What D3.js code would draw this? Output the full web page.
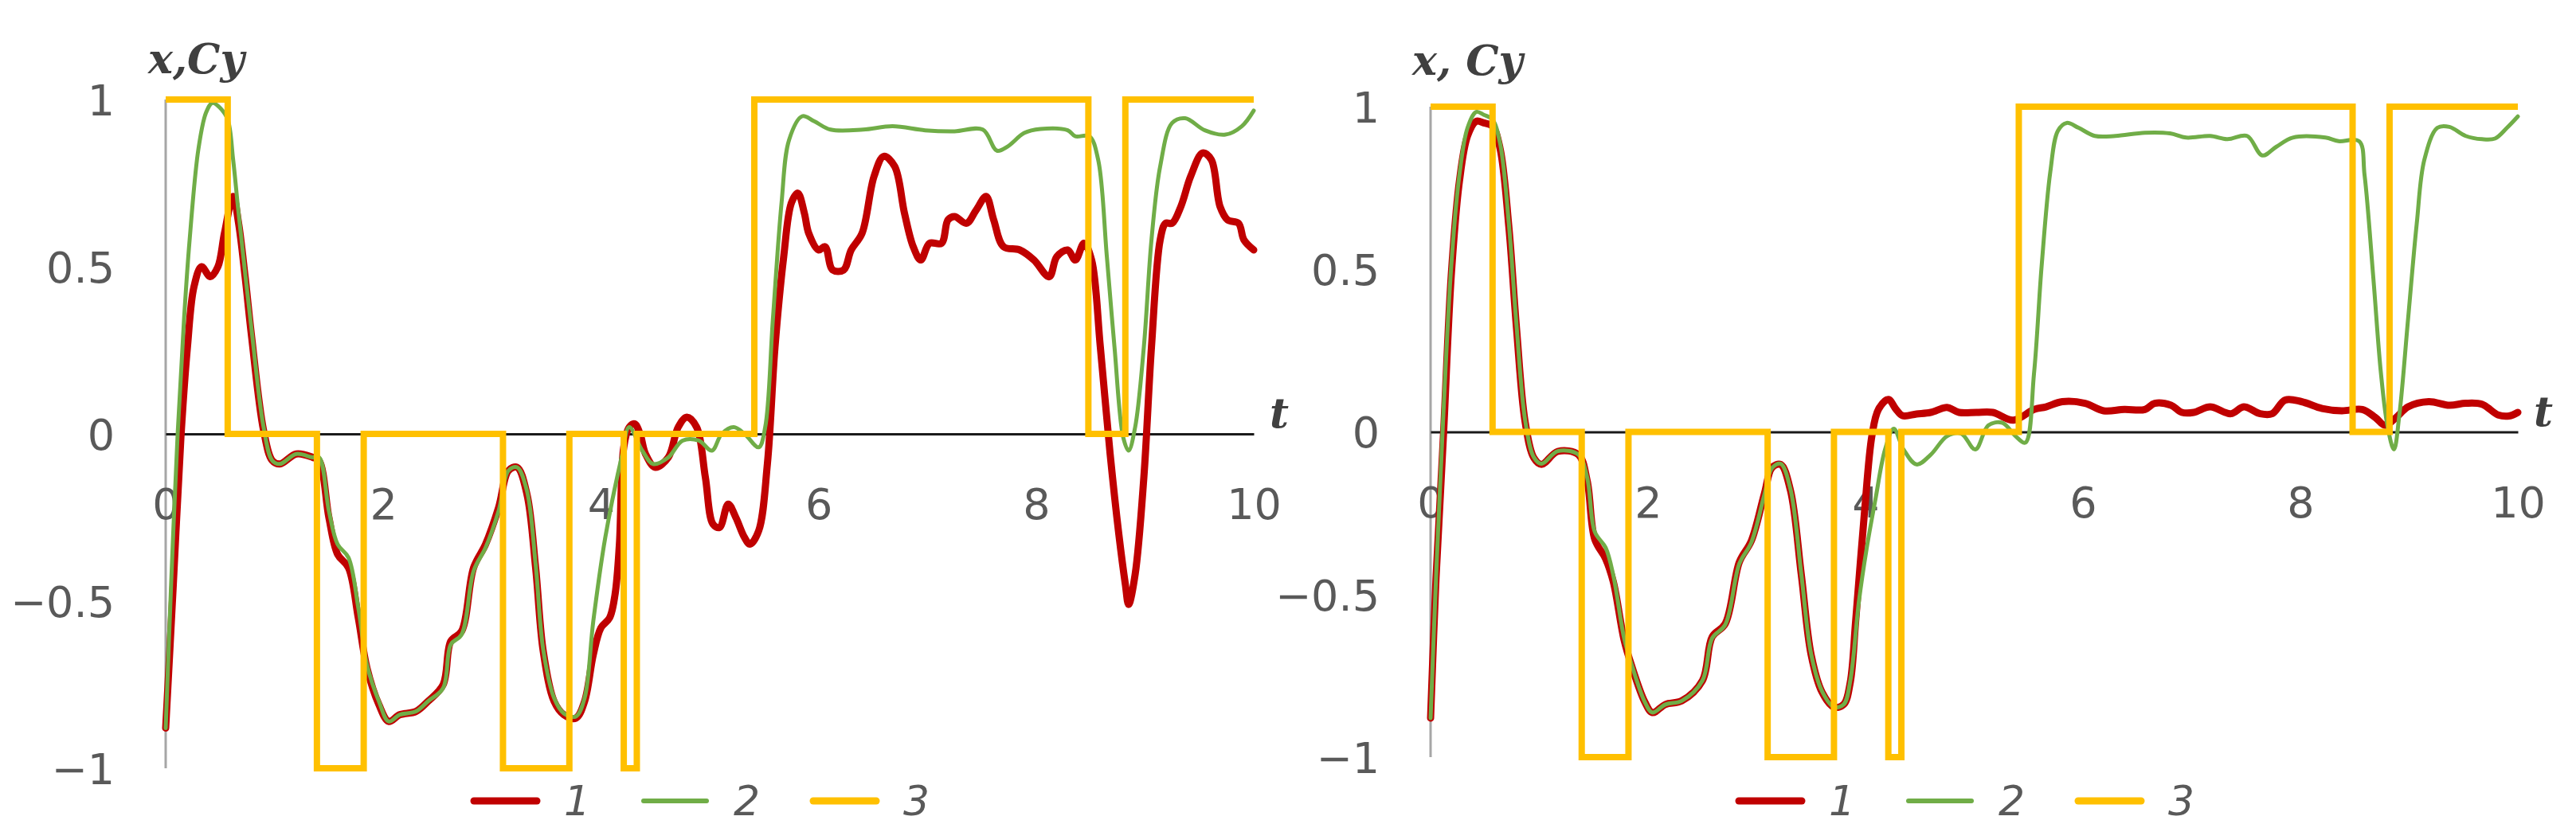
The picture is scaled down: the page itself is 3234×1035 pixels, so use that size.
<!DOCTYPE html>
<html>
<head>
<meta charset="utf-8">
<script src="https://cdn.jsdelivr.net/npm/d3@7"></script>
<style>
  body { margin: 0; background: #fff; }
  svg { display: block; }
</style>
</head>
<body>
<div id="chart"></div>
<script>
// values: [t, value]
const xTicks = [0, 2, 4, 6, 8, 10];
const yTicks = [-1, -0.5, 0, 0.5, 1];
const legendNames = ["1", "2", "3"];

// series 3: relay switching moments and levels (same in both panels)
const switchT = [0, 0.57, 1.39, 1.82, 3.10, 3.71, 4.21, 4.33, 5.41, 8.48, 8.82, 10];
const switchU = [1, 0, -1, 0, -1, 0, -1, 0, 1, 0, 1, 1];

// left panel
const leftRed = [
  [0, -0.88], [0.07, -0.45], [0.14, -0.01], [0.20, 0.26], [0.26, 0.44], [0.33, 0.50],
  [0.41, 0.47], [0.48, 0.50], [0.54, 0.60], [0.62, 0.71], [0.67, 0.63], [0.73, 0.47],
  [0.79, 0.29], [0.90, 0.01], [0.98, -0.08], [1.05, -0.09], [1.20, -0.06], [1.35, -0.07],
  [1.41, -0.08], [1.50, -0.25], [1.58, -0.36], [1.68, -0.40], [1.77, -0.55], [1.85, -0.70],
  [1.96, -0.81], [2.05, -0.86], [2.15, -0.84], [2.30, -0.83], [2.41, -0.80], [2.55, -0.75],
  [2.62, -0.62], [2.72, -0.59], [2.83, -0.40], [2.94, -0.33], [3.06, -0.22], [3.15, -0.11],
  [3.23, -0.10], [3.32, -0.18], [3.40, -0.40], [3.47, -0.65], [3.57, -0.80], [3.66, -0.84],
  [3.77, -0.85], [3.85, -0.80], [3.93, -0.66], [4.00, -0.58], [4.08, -0.55], [4.13, -0.48],
  [4.17, -0.33], [4.21, -0.04], [4.26, 0.02], [4.31, 0.03], [4.36, 0.00], [4.41, -0.06],
  [4.50, -0.10], [4.62, -0.07], [4.71, 0.02], [4.79, 0.05], [4.88, 0.02], [4.96, -0.13],
  [5.03, -0.27], [5.09, -0.28], [5.17, -0.21], [5.24, -0.25], [5.32, -0.31], [5.37, -0.33],
  [5.45, -0.29], [5.53, -0.09], [5.60, 0.26], [5.68, 0.53], [5.75, 0.69], [5.81, 0.72],
  [5.87, 0.66], [5.91, 0.60], [6.00, 0.55], [6.06, 0.56], [6.13, 0.49], [6.23, 0.49],
  [6.30, 0.55], [6.40, 0.60], [6.51, 0.77], [6.60, 0.83], [6.70, 0.80], [6.79, 0.66],
  [6.87, 0.56], [6.94, 0.52], [7.02, 0.57], [7.13, 0.57], [7.19, 0.64], [7.25, 0.65],
  [7.36, 0.63], [7.45, 0.67], [7.54, 0.71], [7.61, 0.64], [7.70, 0.56], [7.85, 0.55],
  [7.98, 0.52], [8.12, 0.47], [8.19, 0.53], [8.29, 0.55], [8.36, 0.52], [8.44, 0.57],
  [8.51, 0.52], [8.59, 0.26], [8.68, -0.06], [8.76, -0.30], [8.82, -0.45], [8.85, -0.51],
  [8.91, -0.42], [8.99, -0.13], [9.06, 0.26], [9.14, 0.58], [9.19, 0.63], [9.25, 0.63],
  [9.33, 0.68], [9.42, 0.77], [9.53, 0.84], [9.61, 0.82], [9.69, 0.68], [9.76, 0.64],
  [9.86, 0.63], [9.91, 0.58], [10, 0.55]
];
const leftGreen = [
  [0, -0.88], [0.05, -0.45], [0.11, 0.00], [0.17, 0.35], [0.22, 0.58], [0.30, 0.85],
  [0.37, 0.96], [0.43, 0.99], [0.50, 0.975], [0.57, 0.94], [0.62, 0.82], [0.67, 0.66],
  [0.79, 0.31], [0.90, 0.02], [0.98, -0.08], [1.05, -0.09], [1.20, -0.06], [1.35, -0.07],
  [1.41, -0.07], [1.50, -0.23], [1.58, -0.33], [1.68, -0.37], [1.77, -0.52], [1.85, -0.69],
  [1.96, -0.80], [2.05, -0.86], [2.15, -0.84], [2.30, -0.83], [2.41, -0.80], [2.55, -0.76],
  [2.62, -0.63], [2.72, -0.60], [2.83, -0.41], [2.94, -0.34], [3.06, -0.23], [3.15, -0.11],
  [3.23, -0.10], [3.32, -0.17], [3.40, -0.39], [3.47, -0.645], [3.57, -0.79], [3.66, -0.836],
  [3.77, -0.845], [3.85, -0.79], [3.93, -0.56], [4.04, -0.31], [4.19, -0.07], [4.26, 0.02],
  [4.38, -0.05], [4.48, -0.09], [4.62, -0.07], [4.75, -0.02], [4.90, -0.02], [5.02, -0.05],
  [5.11, 0.00], [5.22, 0.02], [5.32, 0.00], [5.45, -0.04], [5.51, 0.02], [5.58, 0.34],
  [5.66, 0.69], [5.73, 0.88], [5.85, 0.95], [5.96, 0.935], [6.11, 0.91], [6.41, 0.91],
  [6.68, 0.92], [6.98, 0.908], [7.25, 0.905], [7.51, 0.91], [7.64, 0.847], [7.74, 0.86],
  [7.89, 0.90], [8.04, 0.912], [8.29, 0.908], [8.36, 0.89], [8.49, 0.89], [8.57, 0.82],
  [8.65, 0.53], [8.72, 0.26], [8.80, -0.01], [8.85, -0.05], [8.91, 0.02], [8.99, 0.26],
  [9.06, 0.58], [9.14, 0.80], [9.25, 0.93], [9.37, 0.944], [9.55, 0.908], [9.74, 0.895],
  [9.89, 0.92], [10, 0.967]
];

// right panel
const rightRed = [
  [0, -0.88], [0.05, -0.45], [0.12, 0.00], [0.19, 0.48], [0.265, 0.77], [0.34, 0.91],
  [0.42, 0.955], [0.49, 0.95], [0.57, 0.94], [0.64, 0.87], [0.72, 0.63], [0.79, 0.32],
  [0.87, 0.03], [0.95, -0.08], [1.02, -0.10], [1.17, -0.06], [1.36, -0.07], [1.44, -0.15],
  [1.51, -0.33], [1.61, -0.39], [1.68, -0.46], [1.78, -0.64], [1.85, -0.72], [1.97, -0.83],
  [2.04, -0.863], [2.16, -0.838], [2.31, -0.827], [2.50, -0.765], [2.59, -0.63], [2.71, -0.59],
  [2.84, -0.40], [2.95, -0.335], [3.07, -0.19], [3.14, -0.11], [3.22, -0.10], [3.31, -0.18],
  [3.41, -0.44], [3.50, -0.685], [3.60, -0.80], [3.71, -0.846], [3.80, -0.838], [3.86, -0.77],
  [3.91, -0.58], [3.99, -0.25], [4.06, -0.01], [4.12, 0.07], [4.21, 0.10], [4.28, 0.07],
  [4.34, 0.05], [4.47, 0.055], [4.60, 0.06], [4.75, 0.075], [4.86, 0.06], [5.02, 0.06],
  [5.17, 0.06], [5.36, 0.036], [5.55, 0.069], [5.66, 0.077], [5.81, 0.093], [6.02, 0.088],
  [6.19, 0.065], [6.38, 0.069], [6.57, 0.069], [6.66, 0.088], [6.81, 0.082], [6.91, 0.06],
  [7.02, 0.06], [7.17, 0.077], [7.36, 0.056], [7.48, 0.077], [7.63, 0.056], [7.74, 0.056],
  [7.86, 0.098], [8.01, 0.093], [8.20, 0.072], [8.38, 0.065], [8.57, 0.069], [8.69, 0.044],
  [8.78, 0.02], [8.88, 0.044], [8.99, 0.077], [9.18, 0.093], [9.37, 0.082], [9.52, 0.088],
  [9.67, 0.085], [9.82, 0.052], [9.92, 0.049], [10, 0.06]
];
const rightGreen = [
  [0, -0.88], [0.05, -0.45], [0.11, 0.00], [0.19, 0.51], [0.265, 0.79], [0.34, 0.935],
  [0.42, 0.984], [0.49, 0.975], [0.57, 0.96], [0.64, 0.886], [0.72, 0.64], [0.79, 0.33],
  [0.87, 0.036], [0.95, -0.078], [1.02, -0.098], [1.17, -0.059], [1.36, -0.07], [1.44, -0.14],
  [1.51, -0.307], [1.61, -0.356], [1.68, -0.44], [1.78, -0.634], [1.85, -0.716], [1.97, -0.83],
  [2.04, -0.863], [2.16, -0.838], [2.31, -0.827], [2.50, -0.765], [2.59, -0.634], [2.71, -0.593],
  [2.84, -0.405], [2.95, -0.34], [3.07, -0.193], [3.14, -0.111], [3.22, -0.098], [3.31, -0.176],
  [3.41, -0.438], [3.50, -0.683], [3.60, -0.797], [3.71, -0.846], [3.80, -0.838], [3.86, -0.765],
  [3.94, -0.52], [4.01, -0.36], [4.09, -0.21], [4.18, -0.054], [4.26, 0.01], [4.35, -0.054],
  [4.47, -0.10], [4.60, -0.07], [4.75, -0.013], [4.88, -0.005], [5.01, -0.054], [5.13, 0.02],
  [5.26, 0.028], [5.38, -0.013], [5.47, -0.033], [5.55, 0.18], [5.62, 0.51], [5.70, 0.80],
  [5.77, 0.926], [5.85, 0.95], [5.96, 0.935], [6.11, 0.91], [6.30, 0.91], [6.57, 0.92],
  [6.80, 0.918], [6.95, 0.905], [7.17, 0.91], [7.33, 0.90], [7.51, 0.91], [7.65, 0.85],
  [7.78, 0.877], [7.93, 0.905], [8.23, 0.905], [8.35, 0.894], [8.54, 0.894], [8.59, 0.79],
  [8.67, 0.477], [8.74, 0.183], [8.80, 0.02], [8.86, -0.054], [8.91, 0.052], [8.99, 0.346],
  [9.07, 0.64], [9.14, 0.837], [9.26, 0.935], [9.37, 0.938], [9.52, 0.91], [9.67, 0.90],
  [9.79, 0.902], [9.90, 0.935], [10, 0.97]
];

const width = 3234, height = 1035;
const colors = ["#C00000", "#70AD47", "#FFC000"];
const strokeWidths = [9, 5, 8];
const tickFont = "'DejaVu Sans', sans-serif";
const titleFont = "'DejaVu Serif', 'Liberation Serif', serif";

const panels = [
  { left: 208, right: 1574, top: 125, bottom: 965, title: "x,Cy", titleX: 186, titleY: 92,
    red: leftRed, green: leftGreen, legendX: 595 },
  { left: 1796, right: 3161, top: 134, bottom: 951, title: "x, Cy", titleX: 1773, titleY: 94,
    red: rightRed, green: rightGreen, legendX: 2183 }
];

const svg = d3.select("#chart")
  .append("svg")
    .attr("width", width)
    .attr("height", height);

svg.append("rect").attr("width", width).attr("height", height).attr("fill", "#fff");

const drawPanel = (p) => {
  const x = d3.scaleLinear().domain([0, 10]).range([p.left, p.right]);
  const y = d3.scaleLinear().domain([-1, 1]).range([p.bottom, p.top]);
  const g = svg.append("g");

  // y axis labels (line drawn separately in grey)
  const yAxis = g.append("g")
    .attr("transform", `translate(${p.left},0)`)
    .call(d3.axisLeft(y).tickValues(yTicks).tickFormat(d3.format("")).tickSize(0).tickPadding(64));
  yAxis.select(".domain").remove();
  yAxis.selectAll("text")
    .attr("dy", "0.36em")
    .attr("fill", "#595959")
    .style("font-family", tickFont)
    .style("font-size", "54px");

  g.append("line")
    .attr("x1", x(0)).attr("x2", x(0))
    .attr("y1", y(1)).attr("y2", y(-1))
    .attr("stroke", "#a6a6a6")
    .attr("stroke-width", 3);

  // x axis through zero
  const xAxis = g.append("g")
    .attr("transform", `translate(0,${y(0)})`)
    .call(d3.axisBottom(x).tickValues(xTicks).tickFormat(d3.format("")).tickSize(0).tickPadding(107));
  xAxis.select(".domain")
    .attr("stroke", "#1a1a1a")
    .attr("stroke-width", 3);
  xAxis.selectAll("text")
    .attr("dy", "0em")
    .attr("fill", "#595959")
    .style("font-family", tickFont)
    .style("font-size", "54px");

  const line = d3.line()
    .x(d => x(d[0]))
    .y(d => y(d[1]))
    .curve(d3.curveCatmullRom.alpha(0.5));

  const stepLine = d3.line()
    .x((d, i) => x(switchT[i]))
    .y(d => y(d))
    .curve(d3.curveStepAfter);

  [p.red, p.green].forEach((series, i) => {
    g.append("path")
      .attr("d", line(series))
      .attr("fill", "none")
      .attr("stroke", colors[i])
      .attr("stroke-width", strokeWidths[i])
      .attr("stroke-linejoin", "round")
      .attr("stroke-linecap", "round");
  });

  g.append("path")
    .attr("d", stepLine(switchU))
    .attr("fill", "none")
    .attr("stroke", colors[2])
    .attr("stroke-width", strokeWidths[2]);

  // axis names
  g.append("text")
    .attr("x", p.titleX)
    .attr("y", p.titleY)
    .attr("fill", "#404040")
    .style("font-family", titleFont)
    .style("font-style", "italic")
    .style("font-weight", "bold")
    .style("font-size", "52px")
    .text(p.title);

  g.append("text")
    .attr("x", x(10) + 20)
    .attr("y", y(0) - 8)
    .attr("fill", "#404040")
    .style("font-family", titleFont)
    .style("font-style", "italic")
    .style("font-weight", "bold")
    .style("font-size", "52px")
    .text("t");

  // legend
  const legend = g.append("g")
    .attr("transform", `translate(${p.legendX},1006)`);
  legendNames.forEach((name, i) => {
    const item = legend.append("g").attr("transform", `translate(${i * 213},0)`);
    item.append("line")
      .attr("x1", 0).attr("x2", 79)
      .attr("stroke", colors[i])
      .attr("stroke-width", i === 1 ? 6 : 9)
      .attr("stroke-linecap", "round");
    item.append("text")
      .attr("x", 113)
      .attr("y", 18)
      .attr("fill", "#595959")
      .style("font-family", tickFont)
      .style("font-style", "italic")
      .style("font-size", "52px")
      .text(name);
  });
};

panels.forEach(drawPanel);
</script>
</body>
</html>
